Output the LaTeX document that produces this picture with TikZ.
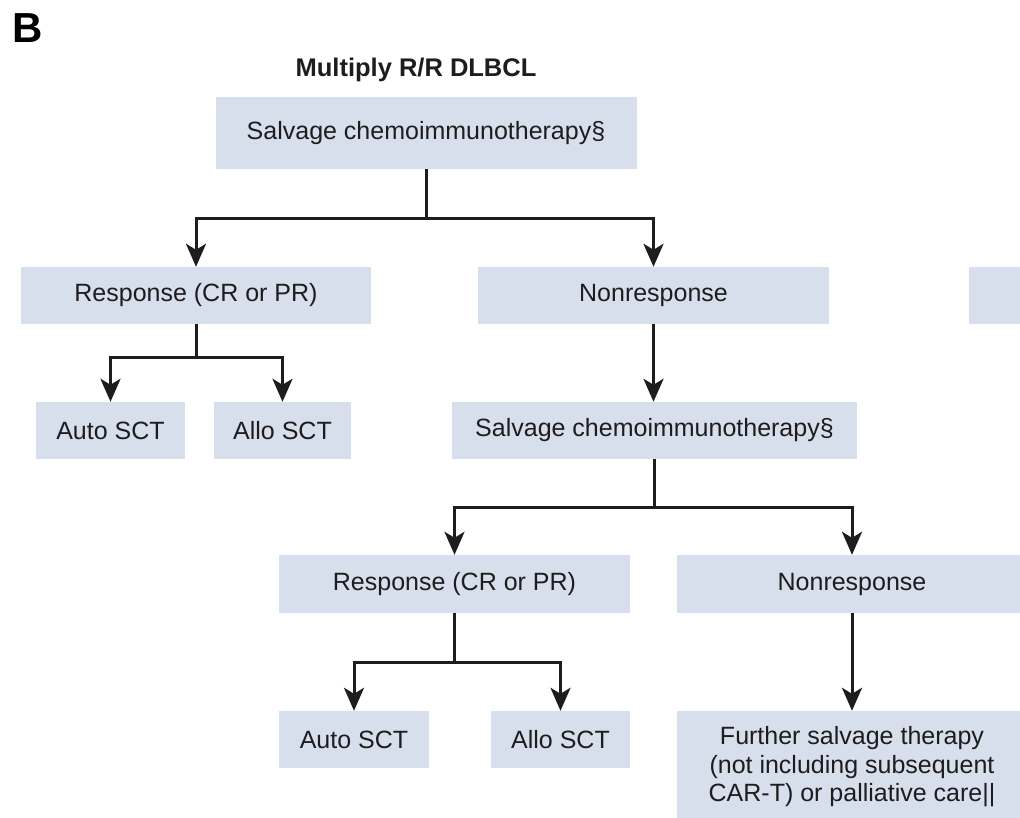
\documentclass[tikz,border=0pt]{standalone}
\usepackage{fontspec}
\setmainfont{Liberation Sans}
\usetikzlibrary{arrows.meta}
\definecolor{boxc}{RGB}{214,223,235}
\definecolor{ink}{RGB}{30,28,30}
\begin{document}
\begin{tikzpicture}[x=1pt,y=-1pt,
  flowbox/.style={fill=boxc, draw=none, inner sep=0pt, align=center, text=ink,
    font=\fontsize{25}{28.5}\selectfont, minimum height=57pt},
  conn/.style={draw=ink, line width=3pt, line join=miter},
  arr/.style={conn, -{Stealth[length=23pt, width=20pt, inset=6pt]}}]
\useasboundingbox (0,0) rectangle (1020,818);
\clip (0,0) rectangle (1020,818);
\fill[white] (0,0) rectangle (1020,818);

\node[anchor=base west, inner sep=0pt, font=\fontsize{42}{42}\selectfont\bfseries] (lbl) at (12,43) {B};
\node[anchor=base, inner sep=0pt, text=ink, font=\fontsize{25.5}{28}\selectfont\bfseries] (ttl) at (416,77) {Multiply R/R DLBCL};

\node[flowbox, minimum width=421pt, minimum height=72pt] (s1) at (426,133) {Salvage chemoimmunotherapy§};
\node[flowbox, minimum width=350pt] (r1) at (196,295.5) {Response (CR or PR)};
\node[flowbox, minimum width=351pt] (n1) at (653.5,295.5) {Nonresponse};
\node[flowbox, minimum width=80pt] (cut) at (1009,295.5) {};
\node[flowbox, minimum width=149pt] (a1) at (110.5,430.5) {Auto SCT};
\node[flowbox, minimum width=137pt] (l1) at (282.5,430.5) {Allo SCT};
\node[flowbox, minimum width=405pt] (s2) at (654.5,430.5) {Salvage chemoimmunotherapy§};
\node[flowbox, minimum width=351pt, minimum height=58pt] (r2) at (454.5,584) {Response (CR or PR)};
\node[flowbox, minimum width=350pt, minimum height=58pt] (n2) at (852,584) {Nonresponse};
\node[flowbox, minimum width=150pt] (a2) at (354,739.5) {Auto SCT};
\node[flowbox, minimum width=139pt] (l2) at (560.5,739.5) {Allo SCT};
\node[flowbox, minimum width=350pt, minimum height=112pt] (f) at (852,767) {Further salvage therapy\\(not including subsequent\\CAR-T) or palliative care||};

\draw[arr] (s1.south) -- ++(0,49) -| (r1.north);
\draw[arr] (s1.south) -- ++(0,49) -| (n1.north);
\draw[arr] (r1.south) -- ++(0,33) -| (a1.north);
\draw[arr] (r1.south) -- ++(0,33) -| (l1.north);
\draw[arr] (n1.south) -- (n1.south |- s2.north);
\draw[arr] (s2.south) -- ++(0,48) -| (r2.north);
\draw[arr] (s2.south) -- ++(0,48) -| (n2.north);
\draw[arr] (r2.south) -- ++(0,49) -| (a2.north);
\draw[arr] (r2.south) -- ++(0,49) -| (l2.north);
\draw[arr] (n2.south) -- (f.north);
\end{tikzpicture}
\end{document}
